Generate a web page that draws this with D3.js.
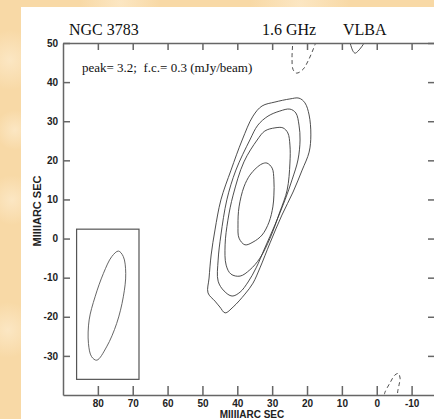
<!DOCTYPE html>
<html>
<head>
<meta charset="utf-8">
<script src="https://cdn.jsdelivr.net/npm/d3@7"></script>
<style>
  body { margin: 0; background: #f8d9a6; }
  .tick text { font-family: "Liberation Sans", Arial, sans-serif; font-weight: bold; font-size: 10px; fill: #222; }
  .axis path, .axis line { stroke: #666; stroke-width: 1.5; }
  .serif { font-family: "Liberation Serif", "Times New Roman", serif; fill: #111; }
  .label { font-family: "Liberation Sans", Arial, sans-serif; font-weight: bold; font-size: 10px; fill: #222; }
</style>
</head>
<body>
<div id="fig"></div>
<script>
// tick values (milliarcsec)
var xTicks = [80, 70, 60, 50, 40, 30, 20, 10, 0, -10]
var yTicks = [50, 40, 30, 20, 10, 0, -10, -20, -30]

// contour levels, outermost first: [RA offset, Dec offset] in mas
var contour1 = [[41.8,17.5],[38.6,25.2],[35.5,31.3],[32.9,33.9],[29.2,34.9],[24.9,35.7],[22.3,35.9],[20.6,34.7],
  [19.4,31.6],[18.9,26.5],[19.4,22.1],[21.4,17.5],[24.0,11.9],[27.2,6.0],[30.6,-1.1],[33.5,-7.5],[35.5,-11.4],
  [37.8,-14.2],[41.2,-17.5],[43.5,-19.0],[45.0,-17.5],[46.4,-16.0],[48.4,-13.9],[48.1,-10.1],[47.5,-4.2],
  [46.4,2.2],[44.7,9.9]]
var contour2 = [[36.4,25.2],[34.1,29.0],[31.2,31.3],[27.8,32.6],[24.9,33.1],[23.2,32.1],[22.3,29.0],[22.0,25.2],
  [22.6,20.1],[24.3,15.0],[26.3,9.9],[29.2,3.5],[32.1,-2.4],[34.6,-7.5],[36.9,-11.1],[39.2,-13.7],[41.5,-14.7],
  [43.8,-13.4],[45.5,-10.9],[45.5,-5.5],[44.7,0.9],[43.0,9.9],[40.4,17.5]]
var contour3 = [[34.3,25.2],[32.1,27.5],[29.2,28.3],[26.9,28.3],[25.5,27.0],[24.9,23.9],[24.9,19.3],[25.7,12.4],
  [27.8,6.8],[30.6,0.1],[33.5,-5.0],[36.4,-8.0],[39.2,-9.6],[41.8,-9.1],[43.2,-6.8],[43.5,-1.6],[42.7,4.7],
  [41.2,11.1],[38.1,19.6]]
var contour4 = [[34.6,18.0],[32.9,19.1],[31.5,19.3],[30.0,18.0],[29.5,15.0],[29.5,11.1],[29.8,8.1],[30.9,4.2],
  [32.9,0.9],[35.5,-0.9],[37.8,-1.6],[39.5,0.1],[39.8,3.5],[39.5,8.1],[38.1,13.2],[36.4,16.2]]

// open pieces near the edges
var negTop = [[24.0,51],[24.3,46.2],[24.0,43.2],[23.0,42.3],[21.2,43.2],[19.7,45.4],[17.7,49.6],[17.2,51]]
var posTop = [[7.8,50.5],[6.8,47.9],[6.2,47.4],[5.4,47.9],[3.9,49.6],[3.4,50.5]]
var negBottom = [[-2.2,-39.8],[-2.4,-39.2],[-3.8,-36.9],[-5.2,-34.9],[-6.2,-34.5],[-6.7,-35.7],[-6.4,-37.4],
  [-6.0,-39.2],[-6.0,-39.8]]

// restoring beam and its box
var beam = [[74.1,-3.2],[72.7,-4.6],[72.0,-8.9],[72.7,-14.9],[74.6,-21.7],[77.5,-27.7],[80.3,-31.1],[81.8,-30.2],
  [82.7,-26.8],[82.5,-20.8],[80.8,-14.9],[78.4,-8.9],[76.0,-4.6]]
var beamBox = {x0: 86.1, x1: 68.2, y0: 2.4, y1: -36.0}

var W = 434, H = 419

var svg = d3.select("#fig").append("svg")
    .attr("width", W)
    .attr("height", H)

// mottled backdrop
var defs = svg.append("defs")
var blot = defs.append("radialGradient").attr("id", "blot")
blot.append("stop").attr("offset", "0%").attr("stop-color", "#fce8c6").attr("stop-opacity", 0.9)
blot.append("stop").attr("offset", "100%").attr("stop-color", "#fce8c6").attr("stop-opacity", 0)
svg.append("rect").attr("width", W).attr("height", H).attr("fill", "#f8d9a6")
var blots = [[10, 60, 30], [12, 200, 25], [8, 330, 28], [120, 3, 40], [300, 4, 50], [15, 130, 20]]
svg.selectAll(".blot").data(blots).enter().append("circle")
    .attr("cx", function(d) { return d[0] }).attr("cy", function(d) { return d[1] })
    .attr("r", function(d) { return d[2] }).attr("fill", "url(#blot)")

// white panel
svg.append("rect").attr("x", 21).attr("y", 7).attr("width", W - 21).attr("height", H - 7).attr("fill", "#fff")

var x = d3.scaleLinear().domain([90, -17]).range([63, 436])
var y = d3.scaleLinear().domain([50, -40]).range([43, 395])

defs.append("clipPath").attr("id", "plotclip").append("rect")
    .attr("x", 63).attr("y", 43).attr("width", 436 - 63).attr("height", 395 - 43)

var ringLine = d3.line().x(function(d) { return x(d[0]) }).y(function(d) { return y(d[1]) })
    .curve(d3.curveCatmullRomClosed.alpha(0.5))
var arcLine = d3.line().x(function(d) { return x(d[0]) }).y(function(d) { return y(d[1]) })
    .curve(d3.curveCatmullRom.alpha(0.5))

var plot = svg.append("g").attr("clip-path", "url(#plotclip)")

plot.selectAll(".cont").data([contour1, contour2, contour3, contour4]).enter().append("path")
    .attr("d", function(d) { return ringLine(d) })
    .attr("fill", "none").attr("stroke", "#3a3a3a").attr("stroke-width", 0.9)

plot.append("path").attr("d", arcLine(posTop))
    .attr("fill", "none").attr("stroke", "#3a3a3a").attr("stroke-width", 0.9)
plot.selectAll(".neg").data([negTop, negBottom]).enter().append("path")
    .attr("d", function(d) { return arcLine(d) })
    .attr("fill", "none").attr("stroke", "#3a3a3a").attr("stroke-width", 0.9)
    .attr("stroke-dasharray", "4,3")

// beam
plot.append("rect")
    .attr("x", x(beamBox.x0)).attr("y", y(beamBox.y0))
    .attr("width", x(beamBox.x1) - x(beamBox.x0)).attr("height", y(beamBox.y1) - y(beamBox.y0))
    .attr("fill", "none").attr("stroke", "#555").attr("stroke-width", 1.2)
plot.append("path").attr("d", ringLine(beam))
    .attr("fill", "none").attr("stroke", "#555").attr("stroke-width", 0.9)

// plain hyphen minus like the original plot
var plain = function(d) { return String(d) }

// axes, ticks pointing inward
svg.append("g").attr("class", "axis")
    .attr("transform", "translate(0,395)")
    .call(d3.axisBottom(x).tickValues(xTicks).tickSizeInner(-9).tickSizeOuter(0).tickPadding(5).tickFormat(plain))
svg.append("g").attr("class", "axis")
    .attr("transform", "translate(0,43)")
    .call(d3.axisTop(x).tickValues(xTicks).tickSizeInner(-7).tickSizeOuter(0).tickFormat(""))
svg.append("g").attr("class", "axis")
    .attr("transform", "translate(63,0)")
    .call(d3.axisLeft(y).tickValues(yTicks).tickSizeInner(-7).tickSizeOuter(0).tickPadding(5).tickFormat(plain))
svg.append("g").attr("class", "axis")
    .attr("transform", "translate(435,0)")
    .call(d3.axisRight(y).tickValues(yTicks).tickSizeInner(-7).tickSizeOuter(0).tickFormat(""))

// axis labels
svg.append("text").attr("class", "label")
    .attr("x", 252).attr("y", 418).style("text-anchor", "middle")
    .text("MIIIIARC SEC")
svg.append("text").attr("class", "label")
    .attr("transform", "translate(41,211) rotate(-90)")
    .style("text-anchor", "middle").style("font-size", "11px")
    .text("MIIIIARC SEC")

// header texts
svg.append("text").attr("class", "serif").attr("x", 69).attr("y", 35).style("font-size", "16px").text("NGC 3783")
svg.append("text").attr("class", "serif").attr("x", 262).attr("y", 35).style("font-size", "16px").text("1.6 GHz")
svg.append("text").attr("class", "serif").attr("x", 343).attr("y", 35).style("font-size", "16px").text("VLBA")
svg.append("text").attr("class", "serif").attr("x", 82).attr("y", 72).style("font-size", "13px")
    .attr("xml:space", "preserve")
    .text("peak= 3.2;  f.c.= 0.3 (mJy/beam)")
</script>
</body>
</html>
